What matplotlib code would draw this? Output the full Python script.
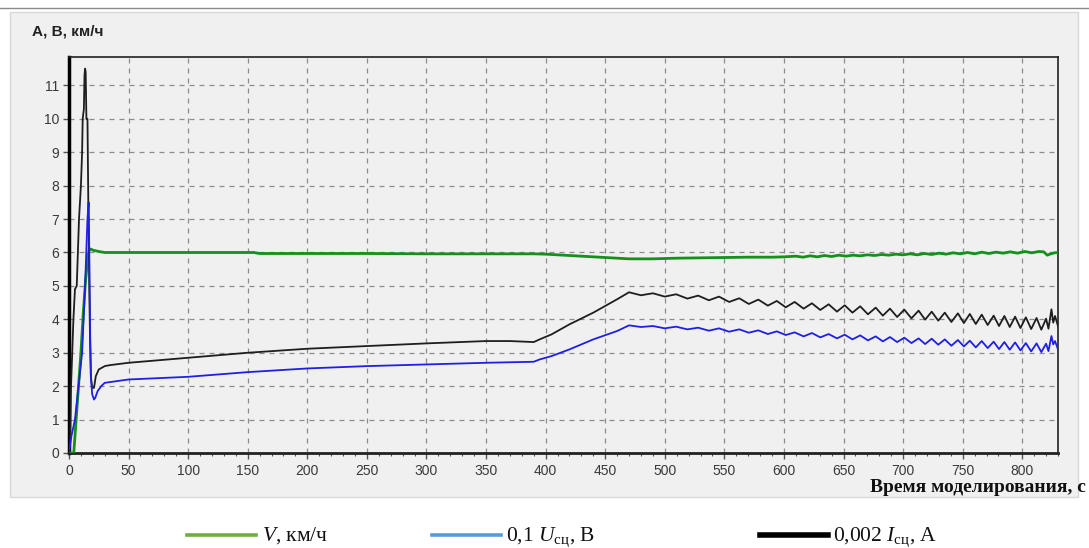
import matplotlib
matplotlib.use("Agg")
import matplotlib.pyplot as plt
from matplotlib.patches import Rectangle
from matplotlib.lines import Line2D
from matplotlib.ticker import MultipleLocator

plt.rcParams['mathtext.fontset'] = 'custom'
plt.rcParams['mathtext.rm'] = 'Liberation Serif'
plt.rcParams['mathtext.it'] = 'Liberation Serif:italic'

# ---------------- data ----------------
# V, km/h (green)
t_v = [0, 4, 7, 10, 12, 14, 16, 17, 18.5, 20, 25, 30, 60, 100, 155, 160, 250, 300, 390,
       400, 410, 420, 430, 440, 450, 460, 470, 490, 510, 530, 550, 570, 590, 600,
       610, 616, 622, 628, 634, 640, 646, 652, 658, 664, 670, 676, 682, 688, 694, 700,
       706, 712, 718, 724, 730, 736, 742, 748, 754, 760, 766, 772, 778, 784, 790, 796,
       802, 808, 814, 818, 821, 824, 827, 830]
v_v = [0, 0, 1.5, 3.0, 4.2, 5.2, 5.9, 6.1, 6.1, 6.07, 6.03, 6.0, 6.0, 6.0, 6.0, 5.97, 5.97, 5.96, 5.96,
       5.95, 5.93, 5.91, 5.89, 5.87, 5.85, 5.83, 5.81, 5.81, 5.83, 5.84, 5.85, 5.86, 5.86, 5.87,
       5.89, 5.86, 5.90, 5.87, 5.91, 5.88, 5.92, 5.89, 5.92, 5.90, 5.93, 5.91, 5.94, 5.92, 5.95, 5.93,
       5.96, 5.93, 5.97, 5.94, 5.98, 5.95, 5.99, 5.96, 6.00, 5.96, 6.01, 5.97, 6.01, 5.98, 6.02, 5.98,
       6.03, 5.99, 6.03, 6.02, 5.92, 5.96, 5.99, 6.0]

# 0.1 U, V (blue)
t_u = [0, 2, 5, 8, 11, 13.5, 15.5, 16.5, 17.2, 17.8, 18.5, 19.5, 21, 22, 24, 27, 30, 40, 50,
       100, 150, 200, 250, 300, 350, 390, 395, 405, 420, 440, 460, 470,
       480, 490, 500, 509.5, 519, 528, 537, 545.5, 554, 562.5, 570.5, 578.5, 586.5, 594,
       601.5, 609, 616.5, 623.5, 630.5, 637.5, 644.5, 651, 657.5, 664, 670.5, 677, 683, 689,
       695, 701, 707, 713, 718.5, 724, 729.5, 735, 740.5, 746, 751, 756, 761, 766, 771, 776,
       780.5, 785, 789.5, 794, 798.5, 803, 807.5, 812, 816, 820, 822, 824.5, 826, 827.5, 830]
v_u = [0, 0.5, 1.0, 2.0, 3.0, 5.0, 7.0, 7.5, 5.5, 3.5, 2.2, 1.75, 1.6, 1.65, 1.85, 2.0, 2.1, 2.15, 2.2,
       2.28, 2.42, 2.53, 2.6, 2.65, 2.7, 2.73, 2.8, 2.9, 3.1, 3.4, 3.65, 3.82,
       3.77, 3.80, 3.73, 3.78, 3.70, 3.75, 3.66, 3.73, 3.63, 3.70, 3.60, 3.67, 3.56, 3.64,
       3.53, 3.61, 3.49, 3.59, 3.46, 3.56, 3.43, 3.54, 3.40, 3.52, 3.37, 3.49, 3.34, 3.47,
       3.32, 3.45, 3.29, 3.43, 3.26, 3.42, 3.24, 3.40, 3.21, 3.38, 3.19, 3.36, 3.16, 3.35, 3.14, 3.33,
       3.11, 3.32, 3.09, 3.31, 3.07, 3.29, 3.04, 3.28, 3.02, 3.27, 3.05, 3.50, 3.25, 3.35, 3.10]

# 0.002 I, A (black)
t_i = [0, 1, 1.7, 3.7, 5, 6.5, 8.4, 10, 11, 11.5, 12.5, 13, 13.5, 14, 14.6, 15.5, 16.2, 17, 17.6,
       18.3, 19.5, 21, 22.5, 25, 30, 34.5, 50, 100, 150, 200, 250, 300, 350, 370, 390,
       395, 405, 420, 440, 460, 470,
       480, 490, 500, 509.5, 519, 528, 537, 545.5, 554, 562.5, 570.5, 578.5, 586.5, 594,
       601.5, 609, 616.5, 623.5, 630.5, 637.5, 644.5, 651, 657.5, 664, 670.5, 677, 683, 689,
       695, 701, 707, 713, 718.5, 724, 729.5, 735, 740.5, 746, 751, 756, 761, 766, 771, 776,
       780.5, 785, 789.5, 794, 798.5, 803, 807.5, 812, 816, 820, 822, 824.5, 826, 827.5, 830]
v_i = [0, 0.4, 2.0, 4.0, 4.9, 5.0, 7.0, 8.0, 9.0, 10.0, 10.3, 11.3, 11.5, 11.4, 10.0, 10.0, 7.5, 5.0, 3.5,
       2.3, 1.95, 1.95, 2.3, 2.5, 2.6, 2.63, 2.7, 2.85, 3.0, 3.12, 3.2, 3.28, 3.35, 3.35, 3.32,
       3.4, 3.55, 3.85, 4.2, 4.6, 4.81,
       4.72, 4.78, 4.68, 4.75, 4.62, 4.71, 4.57, 4.68, 4.52, 4.63, 4.46, 4.59, 4.41, 4.55,
       4.36, 4.52, 4.32, 4.48, 4.28, 4.45, 4.23, 4.42, 4.20, 4.39, 4.15, 4.35, 4.11, 4.32,
       4.07, 4.29, 4.03, 4.26, 3.99, 4.23, 3.96, 4.20, 3.92, 4.18, 3.89, 4.16, 3.86, 4.14, 3.83, 4.11,
       3.80, 4.10, 3.77, 4.08, 3.74, 4.06, 3.71, 4.04, 3.69, 4.02, 3.72, 4.30, 3.90, 4.10, 3.80]

x_ticks = [0, 50, 100, 150, 200, 250, 300, 350, 400, 450, 500, 550, 600, 650, 700, 750, 800]
y_ticks = [0, 1, 2, 3, 4, 5, 6, 7, 8, 9, 10, 11]

legend_labels = [r'$V$, км/ч', r'0,1 $U_{\mathrm{сц}}$, В', r'0,002 $I_{\mathrm{сц}}$, А']

# ---------------- figure ----------------
W, H = 1089, 548
fig = plt.figure(figsize=(W / 100, H / 100), dpi=100)
fig.patch.set_facecolor('white')

# gray panel behind the chart
fig.patches.append(Rectangle((10 / W, 1 - 497 / H), 1068 / W, 485 / H,
                             transform=fig.transFigure, facecolor='#f0f0f0',
                             edgecolor='#d8d8d8', linewidth=1, zorder=-5))
# thin top rule
fig.lines.append(Line2D([0, 1], [1 - 8 / H, 1 - 8 / H], transform=fig.transFigure,
                        color='#8a8a8a', linewidth=1))

ax = fig.add_axes([69 / W, 1 - 453 / H, (1058 - 69) / W, (453 - 57) / H])
ax.set_zorder(2)
ax.set_facecolor('#f0f0f0')

ax.plot(t_v, v_v, color='#14911a', linewidth=2.0, zorder=3)
ax.plot(t_i, v_i, color='#1e1e1e', linewidth=1.3, zorder=4)
ax.plot(t_u, v_u, color='#1f1fe6', linewidth=1.3, zorder=5)

ax.set_xlim(0, 830)
ax.set_ylim(0, 11.85)
ax.set_xticks(x_ticks)
ax.set_yticks(y_ticks)
ax.xaxis.set_minor_locator(MultipleLocator(10))
ax.grid(True, which='major', linestyle=(0, (4, 4)), color='#8c8c8c', linewidth=0.9)
ax.set_axisbelow(True)

for s in ['top', 'right', 'bottom']:
    ax.spines[s].set_color('#222222')
    ax.spines[s].set_linewidth(1.2)
ax.spines['left'].set_color('#000000')
ax.spines['left'].set_linewidth(2.5)
ax.spines['bottom'].set_linewidth(2.0)

ax.tick_params(axis='both', which='major', direction='out', length=4, width=1,
               color='#555555', labelsize=10, labelcolor='#3a3a3a')
ax.tick_params(axis='x', which='minor', direction='out', length=2.5, width=0.8, color='#555555')
for lab in ax.get_xticklabels() + ax.get_yticklabels():
    lab.set_family('Liberation Sans')
ax.tick_params(axis='x', pad=4)
ax.tick_params(axis='y', pad=3)

fig.text(32 / W, 1 - 32 / H, 'А, В, км/ч', fontsize=11, fontweight='bold',
         family='Liberation Sans', color='#222222', va='center', ha='left')
fig.text(1086 / W, 1 - 488 / H, 'Время моделирования, с', fontsize=14, fontweight='bold',
         family='Liberation Serif', color='#111111', va='center', ha='right')

# legend below chart
leg_y = 1 - 535 / H
leg_items = [((187, 256), '#70ad47', 2.6, 262),
             ((432, 501), '#5b9bd5', 2.6, 506),
             ((760, 828), '#000000', 4.0, 833)]
for (x0, x1), col, lw, tx in leg_items:
    fig.lines.append(Line2D([x0 / W, x1 / W], [leg_y, leg_y], transform=fig.transFigure,
                            color=col, linewidth=lw))
for ((x0, x1), col, lw, tx), lab in zip(leg_items, legend_labels):
    fig.text(tx / W, 1 - 541 / H, lab, fontsize=15.5, family='Liberation Serif',
             color='#111111', va='baseline', ha='left')

fig.savefig('out.png', dpi=100, facecolor='white')
